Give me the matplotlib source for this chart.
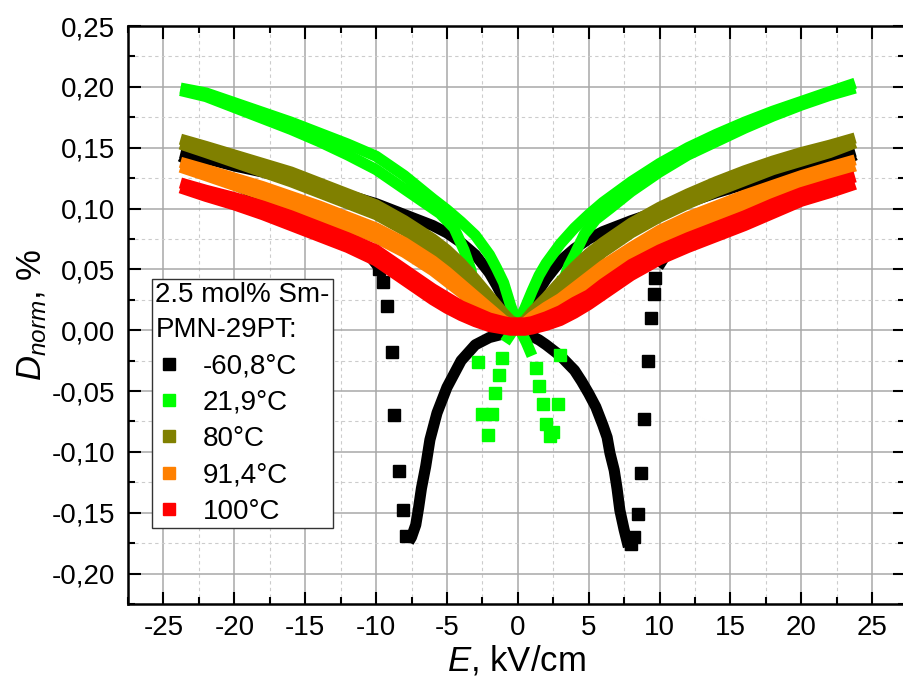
import matplotlib
matplotlib.use("Agg")
import matplotlib.pyplot as plt
from matplotlib.lines import Line2D
from matplotlib.ticker import MultipleLocator, FuncFormatter

plt.rcParams['font.family'] = ['Liberation Sans', 'DejaVu Sans']
plt.rcParams['mathtext.fontset'] = 'custom'
plt.rcParams['mathtext.rm'] = 'Liberation Sans'
plt.rcParams['mathtext.it'] = 'Liberation Sans:italic'

# ---------------- data ----------------
labels = ["-60,8°C", "21,9°C", "80°C", "91,4°C", "100°C"]
colors = ["#000000", "#00ff00", "#808000", "#ff8000", "#ff0000"]
legend_title = "2.5 mol% Sm-\nPMN-29PT:"

# -60,8 °C (black)
blk_up_E = [-23.8, -22, -20, -18, -16, -14, -12, -10, -8, -6, -5, -4, -3, -2, -1.5, -1, -0.5, 0,
            0.5, 1, 1.5, 2, 3, 4, 4.5, 5, 5.5, 6, 6.3, 6.5, 6.8, 7.0, 7.2, 7.5, 7.8]
blk_up_D = [0.146, 0.141, 0.135, 0.130, 0.124, 0.118, 0.111, 0.104, 0.095, 0.086, 0.080, 0.072, 0.062,
            0.047, 0.037, 0.026, 0.014, 0.004, -0.002, -0.005, -0.008, -0.012, -0.021, -0.033, -0.042,
            -0.052, -0.063, -0.078, -0.088, -0.101, -0.115, -0.130, -0.148, -0.164, -0.178]
blk_swr_E = [8.0, 8.2, 8.5, 8.7, 8.9, 9.2, 9.4, 9.6, 9.7]
blk_swr_D = [-0.176, -0.170, -0.151, -0.117, -0.073, -0.025, 0.010, 0.030, 0.043]
blk_lor_E = [9.9, 10.5, 11, 12, 13, 14, 16, 18, 20, 22, 23.8]
blk_lor_D = [0.052, 0.063, 0.070, 0.079, 0.085, 0.090, 0.100, 0.110, 0.121, 0.133, 0.144]
blk_dn_E = [23.8, 22, 20, 18, 16, 14, 12, 10, 8, 6, 5, 4, 3, 2, 1.5, 1, 0.5, 0, -0.5, -1, -2,
            -3, -4, -5, -5.7, -6.2, -6.5, -6.8, -7.0, -7.2, -7.5, -7.7]
blk_dn_D = [0.147, 0.141, 0.134, 0.127, 0.120, 0.113, 0.105, 0.098, 0.090, 0.081, 0.075, 0.067,
            0.057, 0.042, 0.033, 0.023, 0.012, 0.003, -0.001, -0.003, -0.006, -0.012, -0.025,
            -0.047, -0.068, -0.090, -0.112, -0.130, -0.146, -0.160, -0.170, -0.174]
blk_swl_E = [-7.9, -8.1, -8.4, -8.7, -8.9, -9.2, -9.5, -9.8]
blk_swl_D = [-0.169, -0.148, -0.116, -0.070, -0.018, 0.020, 0.040, 0.050]
blk_lol_E = [-9.9, -10.5, -11, -12, -13, -14, -16, -18, -20, -22, -23.8]
blk_lol_D = [0.053, 0.062, 0.069, 0.079, 0.084, 0.089, 0.099, 0.109, 0.120, 0.132, 0.143]

# 21,9 °C (green)
grn_up_E = [-23.8, -22, -20, -18, -16, -14, -12, -10, -8, -6, -5, -4, -3, -2, -1.5, -1, -0.5, 0,
            0.3, 0.6, 1.0]
grn_up_D = [0.199, 0.195, 0.187, 0.179, 0.171, 0.162, 0.153, 0.143, 0.127, 0.108, 0.099, 0.089,
            0.078, 0.062, 0.051, 0.039, 0.020, 0.004, -0.003, -0.010, -0.021]
grn_swr_E = [1.3, 1.5, 1.75, 2.0, 2.3, 2.5, 2.8, 3.0, 3.2]
grn_swr_D = [-0.031, -0.046, -0.061, -0.077, -0.087, -0.084, -0.061, -0.020, 0.040]
grn_inr_E = [3.2, 3.6, 4.0, 4.7, 5.5, 6.5, 8, 10, 12, 14, 16, 18, 20, 22, 23.8]
grn_inr_D = [0.040, 0.053, 0.062, 0.079, 0.091, 0.100, 0.114, 0.130, 0.144, 0.155, 0.166, 0.176,
             0.185, 0.193, 0.199]
grn_dn_E = [23.8, 22, 20, 18, 16, 14, 12, 10, 8, 6, 5, 4, 3, 2, 1.5, 1, 0.5, 0, -0.5, -0.9]
grn_dn_D = [0.203, 0.196, 0.188, 0.180, 0.171, 0.161, 0.150, 0.137, 0.122, 0.105, 0.095, 0.084,
            0.071, 0.055, 0.045, 0.032, 0.018, 0.006, -0.003, -0.010]
grn_swl_E = [-1.1, -1.3, -1.6, -1.8, -2.1, -2.5, -2.8, -3.1]
grn_swl_D = [-0.023, -0.037, -0.052, -0.069, -0.086, -0.069, -0.026, 0.035]
grn_inl_E = [-3.1, -3.3, -3.8, -4.5, -5.5, -6.5, -8, -10, -12, -14, -16, -18, -20, -22, -23.8]
grn_inl_D = [0.035, 0.049, 0.066, 0.084, 0.096, 0.104, 0.116, 0.132, 0.144, 0.155, 0.165, 0.174,
             0.183, 0.192, 0.197]

# slim loops: shared field grid
wing_E = [-23.8, -22, -20, -18, -16, -14, -12, -10, -8, -6, -5, -4, -3, -2, -1, -0.5, 0, 0.5, 1,
          2, 3, 4, 5, 6, 8, 10, 12, 14, 16, 18, 20, 22, 23.8]
# 80 °C (olive)
olv_a_D = [0.157, 0.151, 0.144, 0.137, 0.130, 0.121, 0.112, 0.103, 0.090, 0.075, 0.066, 0.055,
           0.042, 0.028, 0.014, 0.008, 0.005, 0.008, 0.015, 0.027, 0.040, 0.052, 0.063, 0.072,
           0.088, 0.101, 0.112, 0.122, 0.131, 0.139, 0.146, 0.152, 0.158]
olv_b_D = [0.153, 0.146, 0.138, 0.130, 0.122, 0.113, 0.104, 0.095, 0.082, 0.067, 0.058, 0.047,
           0.035, 0.022, 0.009, 0.004, 0.002, 0.004, 0.009, 0.020, 0.031, 0.043, 0.054, 0.064,
           0.080, 0.093, 0.104, 0.114, 0.123, 0.132, 0.139, 0.146, 0.154]
# 91,4 °C (orange)
orn_a_D = [0.138, 0.132, 0.125, 0.118, 0.110, 0.102, 0.093, 0.084, 0.072, 0.057, 0.048, 0.038,
           0.028, 0.018, 0.008, 0.005, 0.004, 0.006, 0.011, 0.019, 0.026, 0.035, 0.044, 0.053,
           0.068, 0.082, 0.093, 0.102, 0.111, 0.119, 0.127, 0.134, 0.140]
orn_b_D = [0.134, 0.127, 0.119, 0.111, 0.103, 0.094, 0.085, 0.076, 0.064, 0.049, 0.040, 0.031,
           0.021, 0.012, 0.004, 0.002, 0.001, 0.002, 0.005, 0.011, 0.018, 0.027, 0.036, 0.045,
           0.060, 0.074, 0.085, 0.094, 0.103, 0.112, 0.121, 0.128, 0.135]
# 100 °C (red)
red_a_D = [0.121, 0.115, 0.109, 0.102, 0.094, 0.085, 0.076, 0.066, 0.050, 0.034, 0.027, 0.020,
           0.015, 0.010, 0.007, 0.006, 0.006, 0.006, 0.007, 0.011, 0.016, 0.023, 0.029, 0.038,
           0.054, 0.066, 0.076, 0.085, 0.094, 0.104, 0.113, 0.120, 0.126]
red_b_D = [0.117, 0.110, 0.103, 0.095, 0.086, 0.077, 0.068, 0.057, 0.041, 0.025, 0.018, 0.012,
           0.007, 0.003, 0.001, 0.000, 0.000, 0.000, 0.001, 0.004, 0.008, 0.014, 0.021, 0.029,
           0.045, 0.058, 0.068, 0.077, 0.086, 0.096, 0.106, 0.113, 0.120]

x_ticks = [-25, -20, -15, -10, -5, 0, 5, 10, 15, 20, 25]
y_ticks = [-0.20, -0.15, -0.10, -0.05, 0.0, 0.05, 0.10, 0.15, 0.20, 0.25]

# ---------------- figure ----------------
W, H = 904, 678
fig = plt.figure(figsize=(W / 100, H / 100), dpi=100)
ax = fig.add_axes([128 / W, 74 / H, (905.5 - 128) / W, 578 / H])
ax.set_xlim(-27.5, 27.35)
ax.set_ylim(-0.225, 0.25)

LW = 8.0   # band width in points (~11 px square markers)
MS = 8.0


def band(E, D, c):
    ax.plot(E, D, '-', color=c, lw=LW, solid_capstyle='butt', solid_joinstyle='round', zorder=3)


def dots(E, D, c):
    ax.plot(E, D, 's', color=c, ms=MS, mec=c, ls='none', zorder=3)


c = colors
band(blk_up_E, blk_up_D, c[0]); dots(blk_swr_E, blk_swr_D, c[0]); band(blk_lor_E, blk_lor_D, c[0])
band(blk_dn_E, blk_dn_D, c[0]); dots(blk_swl_E, blk_swl_D, c[0]); band(blk_lol_E, blk_lol_D, c[0])

band(grn_up_E, grn_up_D, c[1]); dots(grn_swr_E, grn_swr_D, c[1]); band(grn_inr_E, grn_inr_D, c[1])
band(grn_dn_E, grn_dn_D, c[1]); dots(grn_swl_E, grn_swl_D, c[1]); band(grn_inl_E, grn_inl_D, c[1])

band(wing_E, olv_a_D, c[2]); band(wing_E, olv_b_D, c[2])
band(wing_E, orn_a_D, c[3]); band(wing_E, orn_b_D, c[3])
band(wing_E, red_a_D, c[4]); band(wing_E, red_b_D, c[4])

# ticks and grid
ax.set_xticks(x_ticks)
ax.set_yticks(y_ticks)
ax.xaxis.set_minor_locator(MultipleLocator(2.5))
ax.yaxis.set_minor_locator(MultipleLocator(0.025))
ax.xaxis.set_major_formatter(FuncFormatter(lambda v, p: f"{round(v) + 0:d}"))
ax.yaxis.set_major_formatter(FuncFormatter(lambda v, p: f"{round(v, 2) + 0.0:.2f}".replace('.', ',')))
ax.tick_params(which='both', direction='in', top=True, right=True, width=1.5, color='black')
ax.tick_params(which='major', length=9, labelsize=20, pad=8)
ax.tick_params(which='minor', length=5)
ax.tick_params(axis='y', which='major', pad=9)
ax.grid(which='major', color='#a8a8a8', lw=1.1, ls='-')
ax.grid(which='minor', color='#cccccc', lw=0.8, ls=(0, (3, 3)))
ax.set_axisbelow(True)
for s in ax.spines.values():
    s.set_linewidth(1.8)

ax.set_xlabel("$E$, kV/cm", fontsize=25, labelpad=2)
ax.set_ylabel("$D_{norm}$, %", fontsize=25, labelpad=2)

handles = [Line2D([], [], marker='s', color=col, ls='none', ms=MS) for col in colors]
leg = ax.legend(handles, labels, title=legend_title, title_fontsize=20, fontsize=20,
                loc='upper left', bbox_to_anchor=(152 / W, 1 - 279 / H), bbox_transform=fig.transFigure,
                borderaxespad=0, fancybox=False, framealpha=1, edgecolor='#333333',
                handlelength=1.0, handletextpad=0.7, labelspacing=0.37, borderpad=0.12,
                alignment='left')
leg.get_title().set_linespacing(1.45)
leg.get_frame().set_linewidth(1.0)
leg.set_zorder(5)

fig.savefig("out.png", dpi=100)
